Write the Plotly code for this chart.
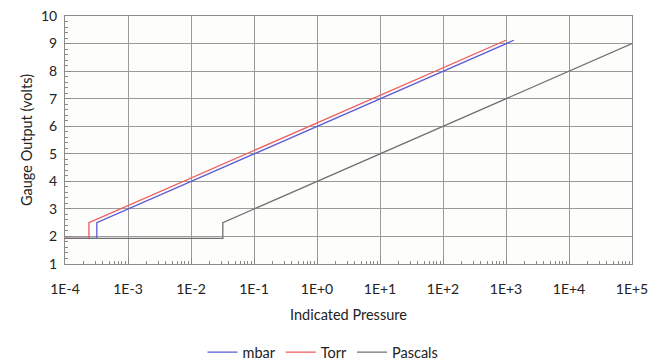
import plotly.graph_objects as go

# Data
mbar_x = [1e-4, 3.2e-4, 3.2e-4, 1333]
mbar_y = [1.93, 1.93, 2.5, 9.12]
torr_x = [1e-4, 2.4e-4, 2.4e-4, 1000]
torr_y = [1.93, 1.93, 2.5, 9.12]
pa_x = [1e-4, 3.2e-2, 3.2e-2, 1e5]
pa_y = [1.93, 1.93, 2.5, 9.0]

x_tickvals = [1e-4, 1e-3, 1e-2, 1e-1, 1e0, 1e1, 1e2, 1e3, 1e4, 1e5]
x_ticktext = ["1E-4", "1E-3", "1E-2", "1E-1", "1E+0", "1E+1", "1E+2", "1E+3", "1E+4", "1E+5"]

fig = go.Figure()
fig.add_trace(go.Scatter(x=mbar_x, y=mbar_y, mode="lines", name="mbar",
                         line=dict(color="#5a5ad6", width=1.3)))
fig.add_trace(go.Scatter(x=torr_x, y=torr_y, mode="lines", name="Torr",
                         line=dict(color="#f05858", width=1.3)))
fig.add_trace(go.Scatter(x=pa_x, y=pa_y, mode="lines", name="Pascals",
                         line=dict(color="#707070", width=1.3)))

font_family = "Lato, Liberation Sans, sans-serif"
fig.update_layout(
    width=667, height=363,
    margin=dict(l=65, r=35, t=16, b=99, autoexpand=False),
    paper_bgcolor="white",
    plot_bgcolor="#fdfdfb",
    font=dict(family=font_family, size=14, color="#222"),
    legend=dict(orientation="h", x=0.455, xanchor="center",
                yref="container", y=0.03, yanchor="middle",
                font=dict(size=14.5), itemwidth=30, bgcolor="rgba(0,0,0,0)"),
    showlegend=True,
)
fig.update_xaxes(
    type="log", range=[-4, 5],
    tickmode="array", tickvals=x_tickvals, ticktext=x_ticktext,
    ticklabelstandoff=12,
    showgrid=True, gridcolor="#9a9a9a", gridwidth=1,
    showline=True, linecolor="#8a8a8a", mirror=True,
    ticks="inside", ticklen=6, tickcolor="#8a8a8a",
    minor=dict(ticks="inside", ticklen=3, tickcolor="#8a8a8a", dtick="D1", showgrid=False),
    title=dict(text="Indicated Pressure", standoff=14, font=dict(size=14.5)),
    zeroline=False,
)
fig.update_yaxes(
    range=[1, 10], dtick=1, tick0=0,
    ticklabelstandoff=4,
    showgrid=True, gridcolor="#9a9a9a", gridwidth=1,
    showline=True, linecolor="#8a8a8a", mirror=True,
    ticks="inside", ticklen=6, tickcolor="#8a8a8a",
    minor=dict(ticks="inside", ticklen=3, tickcolor="#8a8a8a", dtick=0.2, showgrid=False),
    title=dict(text="Gauge Output (volts)", standoff=4, font=dict(size=14.5)),
    zeroline=False,
)
fig.write_html("out.html", config={"displayModeBar": False},
               post_script="document.body.style.margin='0';")
